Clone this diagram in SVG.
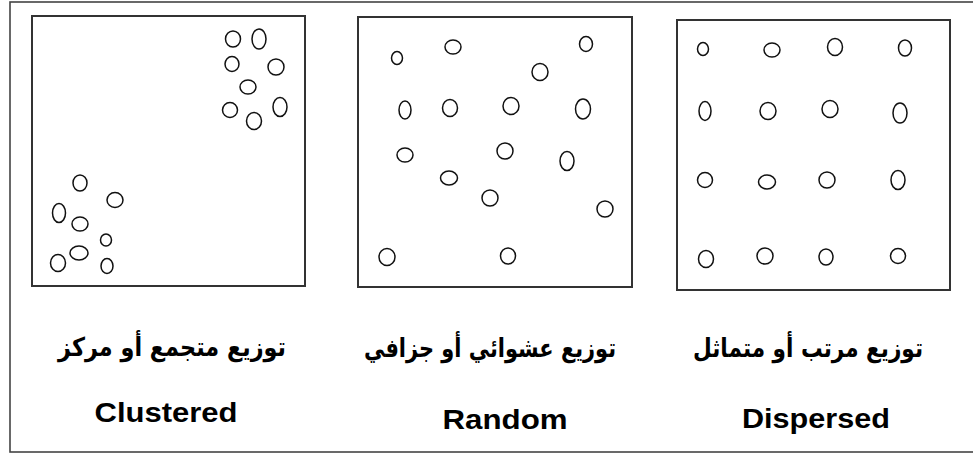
<svg xmlns="http://www.w3.org/2000/svg" width="973" height="453" viewBox="0 0 973 453">
<style>
.frame{fill:none;stroke:#444;stroke-width:1.6}
.box{fill:none;stroke:#333;stroke-width:2}
.pt{fill:none;stroke:#111;stroke-width:1.5}
.ar{font-family:"DejaVu Sans",sans-serif;font-weight:bold;font-size:26px;fill:#000;text-anchor:middle}
.en{font-family:"Liberation Sans",Arial,sans-serif;font-weight:bold;font-size:28px;fill:#000;text-anchor:middle}
</style>
<rect width="973" height="453" fill="#fff"/>
<rect class="frame" x="10" y="2" width="975" height="450"/>
<g id="clustered">
<rect class="box" x="32" y="16" width="273" height="270"/>
<ellipse class="pt" cx="233" cy="39" rx="7.5" ry="8"/>
<ellipse class="pt" cx="259" cy="39" rx="7" ry="10"/>
<ellipse class="pt" cx="232" cy="64" rx="7" ry="7.5"/>
<ellipse class="pt" cx="276" cy="67" rx="8" ry="8"/>
<ellipse class="pt" cx="248" cy="87" rx="8" ry="7"/>
<ellipse class="pt" cx="230" cy="110" rx="7.5" ry="7.5"/>
<ellipse class="pt" cx="280" cy="107" rx="7" ry="9.5"/>
<ellipse class="pt" cx="254" cy="121" rx="7.5" ry="8.5"/>
<ellipse class="pt" cx="80" cy="183" rx="7" ry="8"/>
<ellipse class="pt" cx="115" cy="200" rx="8" ry="7.5"/>
<ellipse class="pt" cx="59" cy="213" rx="6.5" ry="9.5"/>
<ellipse class="pt" cx="80" cy="224" rx="8" ry="7"/>
<ellipse class="pt" cx="106" cy="240" rx="5.5" ry="6"/>
<ellipse class="pt" cx="79" cy="253" rx="9" ry="7"/>
<ellipse class="pt" cx="58" cy="263" rx="7.5" ry="8.5"/>
<ellipse class="pt" cx="107" cy="266" rx="6" ry="7.5"/>
<text class="ar" x="172" y="356" direction="rtl" textLength="228" lengthAdjust="spacingAndGlyphs">توزيع متجمع أو مركز</text>
<text class="en" x="166" y="422" textLength="143" lengthAdjust="spacingAndGlyphs">Clustered</text>
</g>
<g id="random">
<rect class="box" x="358" y="17" width="274" height="270"/>
<ellipse class="pt" cx="397" cy="58" rx="5.5" ry="6.5"/>
<ellipse class="pt" cx="453" cy="47" rx="8" ry="7"/>
<ellipse class="pt" cx="586" cy="44" rx="6.5" ry="7.5"/>
<ellipse class="pt" cx="540" cy="72" rx="8" ry="8.5"/>
<ellipse class="pt" cx="405" cy="110" rx="6" ry="9"/>
<ellipse class="pt" cx="450" cy="108" rx="7.5" ry="8.5"/>
<ellipse class="pt" cx="511" cy="106" rx="8" ry="8.5"/>
<ellipse class="pt" cx="583" cy="109" rx="7.5" ry="10"/>
<ellipse class="pt" cx="405" cy="155" rx="8" ry="7"/>
<ellipse class="pt" cx="505" cy="151" rx="8" ry="8"/>
<ellipse class="pt" cx="567" cy="161" rx="7" ry="9.5"/>
<ellipse class="pt" cx="449" cy="178" rx="8.5" ry="7"/>
<ellipse class="pt" cx="490" cy="198" rx="8" ry="8"/>
<ellipse class="pt" cx="605" cy="209" rx="8" ry="8"/>
<ellipse class="pt" cx="387" cy="257" rx="8" ry="8.5"/>
<ellipse class="pt" cx="508" cy="256" rx="7.5" ry="8"/>
<text class="ar" x="490" y="357" direction="rtl" textLength="252" lengthAdjust="spacingAndGlyphs">توزيع عشوائي أو جزافي</text>
<text class="en" x="505" y="429" textLength="125" lengthAdjust="spacingAndGlyphs">Random</text>
</g>
<g id="dispersed">
<rect class="box" x="677" y="20" width="273" height="270"/>
<ellipse class="pt" cx="703" cy="49" rx="5.5" ry="6.5"/>
<ellipse class="pt" cx="772" cy="50" rx="8" ry="7"/>
<ellipse class="pt" cx="835" cy="47" rx="7.5" ry="8.5"/>
<ellipse class="pt" cx="905" cy="48" rx="6.5" ry="8"/>
<ellipse class="pt" cx="705" cy="111" rx="6" ry="9.5"/>
<ellipse class="pt" cx="768" cy="111" rx="8" ry="8.5"/>
<ellipse class="pt" cx="830" cy="109" rx="8" ry="8.5"/>
<ellipse class="pt" cx="900" cy="113" rx="7" ry="10"/>
<ellipse class="pt" cx="705" cy="180" rx="7.5" ry="7.5"/>
<ellipse class="pt" cx="767" cy="182" rx="8.5" ry="7"/>
<ellipse class="pt" cx="827" cy="180" rx="8" ry="8"/>
<ellipse class="pt" cx="898" cy="180" rx="7" ry="9.5"/>
<ellipse class="pt" cx="706" cy="259" rx="7.5" ry="8.5"/>
<ellipse class="pt" cx="765" cy="256" rx="8" ry="8"/>
<ellipse class="pt" cx="826" cy="257" rx="7" ry="8"/>
<ellipse class="pt" cx="898" cy="256" rx="7.5" ry="7.5"/>
<text class="ar" x="808" y="357" direction="rtl" textLength="230" lengthAdjust="spacingAndGlyphs">توزيع مرتب أو متماثل</text>
<text class="en" x="816" y="428" textLength="148" lengthAdjust="spacingAndGlyphs">Dispersed</text>
</g>
</svg>
